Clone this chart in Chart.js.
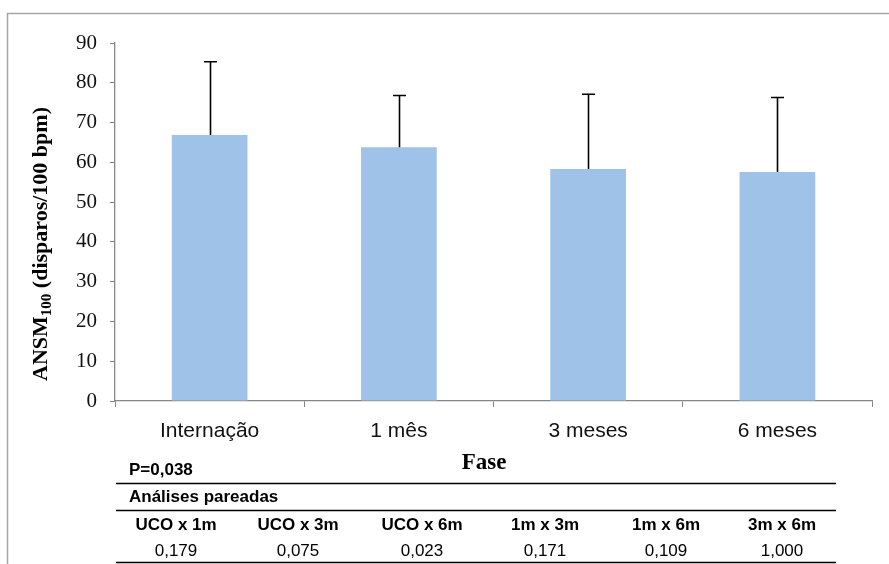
<!DOCTYPE html>
<html>
<head>
<meta charset="utf-8">
<script src="https://cdn.jsdelivr.net/npm/chart.js@4/dist/chart.umd.min.js"></script>
<style>
  html, body { margin: 0; padding: 0; background: #fff; }
  #wrap { width: 889px; height: 564px; position: relative; }
</style>
</head>
<body>
<div id="wrap"><canvas id="grafico"></canvas></div>
<script>
// dados do gráfico
const fases = ['Internação', '1 mês', '3 meses', '6 meses'];
const medias = [66.9, 63.8, 58.3, 57.6];
const desvios = [18.4, 13.0, 18.8, 18.7];
const yTicks = [0, 10, 20, 30, 40, 50, 60, 70, 80, 90];

// tabela abaixo do gráfico
const pGeral = 'P=0,038';
const tituloPareadas = 'Análises pareadas';
const pares = ['UCO x 1m', 'UCO x 3m', 'UCO x 6m', '1m x 3m', '1m x 6m', '3m x 6m'];
const pPares = ['0,179', '0,075', '0,023', '0,171', '0,109', '1,000'];

const corEixo = '#868686';
const serif = '"Liberation Serif", "DejaVu Serif", serif';
const sans = '"Liberation Sans", Arial, sans-serif';

// barras de erro (só para cima)
const barrasErro = {
    id: 'barrasErro',
    afterDatasetsDraw(chart) {
        const ctx = chart.ctx;
        const y = chart.scales.y;
        const meta = chart.getDatasetMeta(0);
        ctx.save();
        ctx.strokeStyle = '#000';
        ctx.lineWidth = 1.6;
        meta.data.forEach((bar, i) => {
            const yBase = y.getPixelForValue(medias[i]);
            const yTopo = y.getPixelForValue(medias[i] + desvios[i]);
            const x = Math.round(bar.x) + 0.5;
            ctx.beginPath();
            ctx.moveTo(x, yBase);
            ctx.lineTo(x, yTopo);
            ctx.moveTo(x - 6.5, yTopo);
            ctx.lineTo(x + 6.5, yTopo);
            ctx.stroke();
        });
        ctx.restore();
    }
};

// moldura, títulos dos eixos e tabela
const extras = {
    id: 'extras',
    afterDraw(chart) {
        const ctx = chart.ctx;
        ctx.save();

        // moldura
        ctx.strokeStyle = '#a6a6a6';
        ctx.lineWidth = 1.5;
        ctx.beginPath();
        ctx.moveTo(7.5, 600);
        ctx.lineTo(7.5, 13.5);
        ctx.lineTo(900, 13.5);
        ctx.stroke();

        // título eixo Y com subscrito
        ctx.fillStyle = '#000';
        ctx.translate(41, 244);
        ctx.rotate(-Math.PI / 2);
        const fGrande = 'bold 22px ' + serif;
        const fSub = 'bold 15px ' + serif;
        const p1 = 'ANSM', p2 = '100', p3 = ' (disparos/100 bpm)';
        ctx.font = fGrande;
        const w1 = ctx.measureText(p1).width;
        const w3 = ctx.measureText(p3).width;
        ctx.font = fSub;
        const w2 = ctx.measureText(p2).width;
        let x0 = -(w1 + w2 + w3) / 2;
        ctx.textBaseline = 'middle';
        ctx.textAlign = 'left';
        ctx.font = fGrande;
        ctx.fillText(p1, x0, 0);
        ctx.font = fSub;
        ctx.fillText(p2, x0 + w1, 6);
        ctx.font = fGrande;
        ctx.fillText(p3, x0 + w1 + w2, 0);
        ctx.setTransform(1, 0, 0, 1, 0, 0);

        // título eixo X
        ctx.font = 'bold 23px ' + serif;
        ctx.textAlign = 'center';
        ctx.fillText('Fase', 484, 463);

        // tabela
        ctx.font = 'bold 17px ' + sans;
        ctx.textAlign = 'left';
        ctx.fillStyle = '#000';
        ctx.fillText(pGeral, 129, 470);
        ctx.fillText(tituloPareadas, 129, 497);

        ctx.strokeStyle = '#000';
        ctx.lineWidth = 1.3;
        [483, 510, 562].forEach(yl => {
            ctx.beginPath();
            ctx.moveTo(116, yl + 0.5);
            ctx.lineTo(836, yl + 0.5);
            ctx.stroke();
        });

        const colX = [176, 298, 422, 545, 666, 782];
        ctx.textAlign = 'center';
        pares.forEach((t, i) => {
            ctx.font = 'bold 17px ' + sans;
            ctx.fillText(t, colX[i], 525);
            ctx.font = '17px ' + sans;
            ctx.fillText(pPares[i], colX[i], 551);
        });
        ctx.restore();
    }
};

const ctxGrafico = document.getElementById('grafico').getContext('2d');
new Chart(ctxGrafico, {
    type: 'bar',
    data: {
        labels: fases,
        datasets: [{
            label: 'ANSM100',
            data: medias,
            backgroundColor: '#9fc2e8',
            borderWidth: 0,
            categoryPercentage: 1,
            barPercentage: 0.4
        }]
    },
    options: {
        responsive: true,
        maintainAspectRatio: false,
        animation: false,
        layout: { padding: { top: 43, right: 17, bottom: 0, left: 0 } },
        plugins: {
            legend: { display: false },
            tooltip: { enabled: false }
        },
        scales: {
            x: {
                afterFit: s => { s.height = 163; },
                border: { color: corEixo, width: 1.3 },
                grid: { offset: true, drawOnChartArea: false, drawTicks: true, tickLength: 6, color: corEixo },
                ticks: { color: '#111', padding: 12, font: { family: sans, size: 21 } }
            },
            y: {
                min: 0,
                max: 90,
                afterFit: s => { s.width = 115; },
                afterBuildTicks: s => { s.ticks = yTicks.map(v => ({ value: v })); },
                border: { color: corEixo, width: 1.3 },
                grid: { drawOnChartArea: false, drawTicks: true, tickLength: 5, color: corEixo },
                ticks: { color: '#111', padding: 13, font: { family: serif, size: 21 } }
            }
        }
    },
    plugins: [barrasErro, extras]
});
</script>
</body>
</html>
